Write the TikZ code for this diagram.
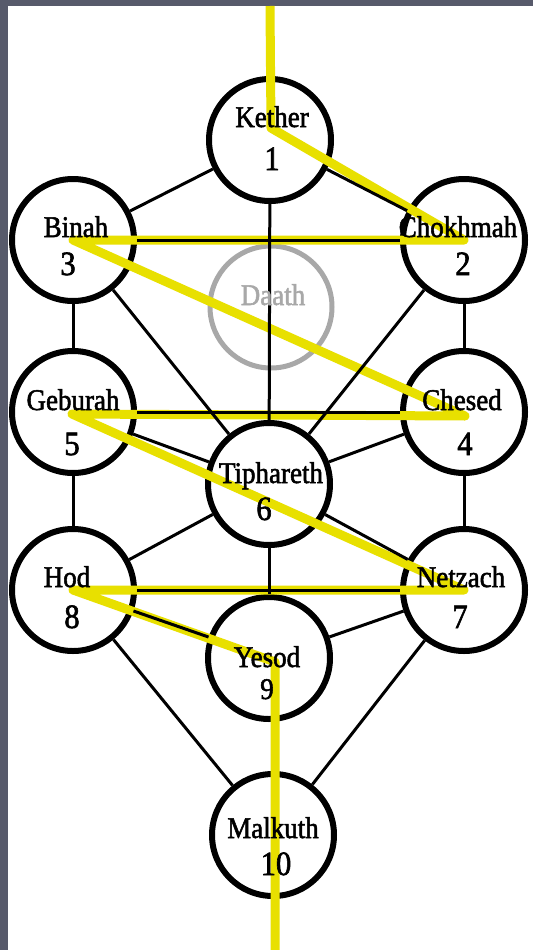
\documentclass[tikz,border=0pt]{standalone}
\usepackage{fontspec}
\newfontfamily\treefont[FakeBold=1.8, FakeStretch=0.9]{Liberation Serif}
\definecolor{flash}{RGB}{232,224,0}
\definecolor{framegray}{RGB}{87,90,107}
\definecolor{daathgray}{RGB}{168,168,168}
\begin{document}
\begin{tikzpicture}[x=1pt,y=-1pt,
  sephira/.style={circle, draw, line width=6pt, minimum size=122pt, inner sep=0pt},
  conn/.style={line width=3pt},
  flashline/.style={draw=flash, line width=9pt, line join=round},
  namelbl/.style={anchor=base, inner sep=0pt, font=\treefont\fontsize{30}{30}\selectfont},
  numlbl/.style={anchor=base, inner sep=0pt, font=\treefont\fontsize{34}{34}\selectfont}]
\fill[framegray] (0,0) rectangle (533,950);
\fill[white] (8,6) rectangle (533,950);
\useasboundingbox (0,0) rectangle (533,950);

% sephiroth
\node[sephira] (ket) at (270,140) {};
\node[sephira] (cho) at (464,240) {};
\node[sephira] (bin) at (73,240) {};
\node[sephira, draw=daathgray, line width=5pt] (daa) at (271,307) {};
\node[sephira] (che) at (464,412) {};
\node[sephira] (geb) at (73,412) {};
\node[sephira] (tip) at (269,484) {};
\node[sephira] (net) at (464,590) {};
\node[sephira] (hod) at (73,590) {};
\node[sephira] (yes) at (269,658) {};
\node[sephira] (mal) at (273,835) {};

% lightning flash
\coordinate (ftop) at (270,6);
\coordinate (fket) at (271,128);
\coordinate (fche) at (465,416);
\coordinate (fgeb) at (72,414);
\coordinate (fyes) at (275,662);
\coordinate (fbot) at (275,950);
\draw[flashline] (ftop) -- (fket) -- (cho.center) -- (bin.center) -- (fche) -- (fgeb)
  -- (net.center) -- (hod.center) -- (fyes) -- (fbot);

% paths
\draw[conn] (ket) -- (bin);
\draw[conn] (ket) -- (cho);
\draw[conn] (ket) -- (tip);
\draw[conn] (bin) -- (cho);
\draw[conn] (bin) -- (geb);
\draw[conn] (cho) -- (che);
\draw[conn] (bin) -- (tip);
\draw[conn] (cho) -- (tip);
\draw[conn] (geb) -- (che);
\draw[conn] (geb) -- (tip);
\draw[conn] (che) -- (tip);
\draw[conn] (geb) -- (hod);
\draw[conn] (che) -- (net);
\draw[conn] (tip) -- (hod);
\draw[conn] (tip) -- (net);
\draw[conn] (tip) -- (yes);
\draw[conn] (hod) -- (net);
\draw[conn] (hod) -- (yes);
\draw[conn] (net) -- (yes);
\draw[conn] (hod) -- (mal);
\draw[conn] (net) -- (mal);

% labels
\node[namelbl] (ketname) at (272,127) {Kether};
\node[numlbl] (ketnum) at (272,170) {1};
\node[namelbl] (binname) at (76,237) {Binah};
\node[numlbl] (binnum) at (68,275) {3};
\node[namelbl] (choname) at (458,237) {Chokhmah};
\node[numlbl] (chonum) at (463,275) {2};
\node[namelbl, text=daathgray] (daaname) at (273,305) {Daath};
\node[namelbl] (gebname) at (73,410) {Geburah};
\node[numlbl] (gebnum) at (72,455) {5};
\node[namelbl] (chename) at (462,410) {Chesed};
\node[numlbl] (chenum) at (465,455) {4};
\node[namelbl] (tipname) at (271,483) {Tiphareth};
\node[numlbl] (tipnum) at (264,520) {6};
\node[namelbl] (hodname) at (67,587) {Hod};
\node[numlbl] (hodnum) at (72,628) {8};
\node[namelbl] (netname) at (461,587) {Netzach};
\node[numlbl] (netnum) at (460,628) {7};
\node[namelbl] (yesname) at (267,667) {Yesod};
\node[numlbl, font=\treefont\fontsize{30}{30}\selectfont] (yesnum) at (267,699) {9};
\node[namelbl] (malname) at (273,838) {Malkuth};
\node[numlbl] (malnum) at (276,875) {10};
\end{tikzpicture}
\end{document}
